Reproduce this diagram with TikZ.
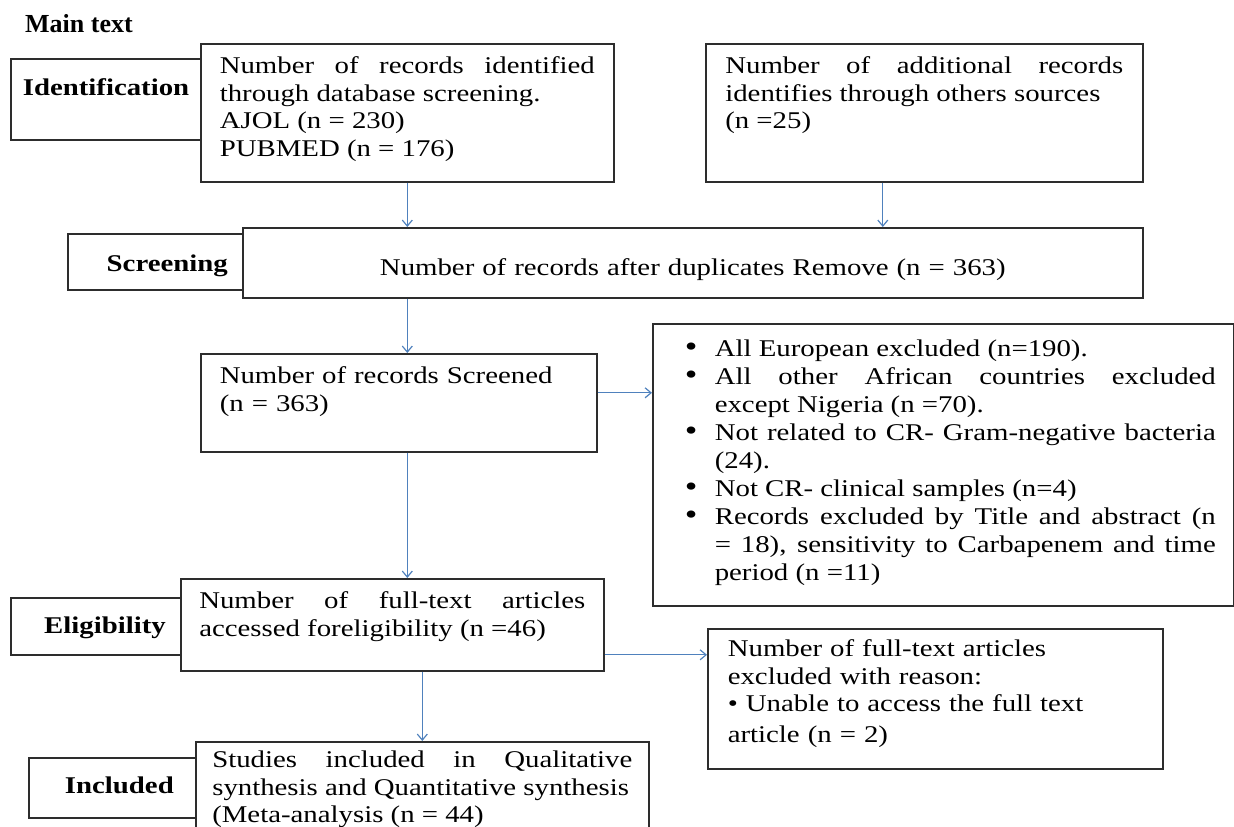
\documentclass[tikz,border=0pt]{standalone}
\usepackage{fontspec}
\setmainfont{Liberation Serif}[FakeStretch=1.2]
\newfontfamily\headfont{Liberation Serif}
\usetikzlibrary{arrows.meta}
\definecolor{flowblue}{RGB}{79,129,189}
\definecolor{boxline}{RGB}{45,45,45}
\tolerance=10000 \hbadness=10000
\hyphenpenalty=10000 \exhyphenpenalty=10000
\newcommand{\exitem}{\hangindent=30pt\hangafter=1\noindent\makebox[30pt][l]{{\fontsize{30}{28}\selectfont\textbullet}}}
\tikzset{
>={Straight Barb[length=6pt,width=10pt]}, % small open arrow heads
flow/.style={->, draw=flowblue, line width=1.2pt}, % blue connectors between boxes
box/.style={draw=boxline, line width=1.6pt, fill=white, anchor=north west, align=justify, inner xsep=19pt, inner ysep=0pt, text height=30pt, font=\fontsize{24}{27.5}\selectfont}, % text boxes
stage/.style={box, align=right, inner xsep=15pt, font=\fontsize{24}{27.5}\selectfont\bfseries}, % stage labels on the left
}
\begin{document}
\begin{tikzpicture}[x=1pt, y=-1pt]
\useasboundingbox (0,0) rectangle (1234,827);
\node[anchor=base west, inner sep=0pt, font=\headfont\fontsize{26}{30}\selectfont\bfseries] (title) at (25,32) {Main text};
% stage labels (drawn first, the boxes cover their right edges)
\node[stage, inner xsep=12pt, text width=166pt, text height=37pt, text depth=44pt] (ident) at (10,58) {Identification};
\node[stage, text width=145pt, text height=38pt, text depth=18pt] (screen) at (67,233) {Screening};
\node[stage, text width=140pt, text height=36pt, text depth=21pt] (eligib) at (10,597) {Eligibility};
\node[stage, inner xsep=22pt, text width=123pt, text height=36pt, text depth=24pt] (inclab) at (28,757) {Included};
% flow boxes
\node[box, text width=375pt, text depth=108pt] (dbrec) at (200,43) {Number of records identified\linebreak through database screening.\\ AJOL (n = 230)\\ PUBMED (n = 176)};
\node[box, inner xsep=19.5pt, text width=398pt, text depth=108pt] (addrec) at (705,43) {Number of additional records\linebreak identifies through others sources\\ (n =25)};
\node[box, align=center, text width=862pt, text height=48pt, text depth=22pt] (dupl) at (242,227) {Number of records after duplicates Remove (n = 363)};
\node[box, align=left, text width=358pt, text depth=68pt] (screened) at (200,353) {Number of records Screened\\ (n = 363)};
\node[box, inner xsep=18pt, text width=545pt, text height=33pt, text depth=249pt, font=\fontsize{24}{28}\selectfont] (excl) at (652,323) {\leftskip=14pt%
\exitem All European excluded (n=190).\par
\exitem All other African countries excluded\linebreak except Nigeria (n =70).\par
\exitem Not related to CR- Gram-negative bacteria\linebreak (24).\par
\exitem Not CR- clinical samples (n=4)\par
\exitem Records excluded by Title and abstract (n\linebreak = 18), sensitivity to Carbapenem and time\linebreak period (n =11)\par};
\node[box, inner xsep=18.5pt, text width=386pt, text depth=62pt] (elig) at (180,578) {Number of full-text articles\linebreak accessed foreligibility (n =46)};
\node[box, align=left, inner xsep=20pt, text width=415pt, text height=28pt, text depth=112pt] (excl2) at (707,628) {Number of full-text articles\\ excluded with reason:\\ \textbullet{} Unable to access the full text\\[3pt] article (n = 2)};
\node[box, inner xsep=16.5pt, text width=420pt, text height=26pt, text depth=100pt] (incl) at (195,741) {Studies included in Qualitative\linebreak synthesis and Quantitative synthesis\\ (Meta-analysis (n = 44)};
% connectors
\draw[flow] (dbrec.south) -- (dbrec.south |- dupl.north);
\draw[flow] ([xshift=-41.5pt]addrec.south) coordinate (a2) -- (a2 |- dupl.north);
\draw[flow] (dbrec.south |- dupl.south) -- (dbrec.south |- screened.north);
\draw[flow] ([yshift=10pt]screened.east) coordinate (a4) -- (a4 -| excl.west);
\draw[flow] (dbrec.south |- screened.south) -- (dbrec.south |- elig.north);
\draw[flow] ([yshift=-30pt]elig.east) coordinate (a6) -- (a6 -| excl2.west);
\draw[flow] (incl.north |- elig.south) -- (incl.north);
\end{tikzpicture}
\end{document}
